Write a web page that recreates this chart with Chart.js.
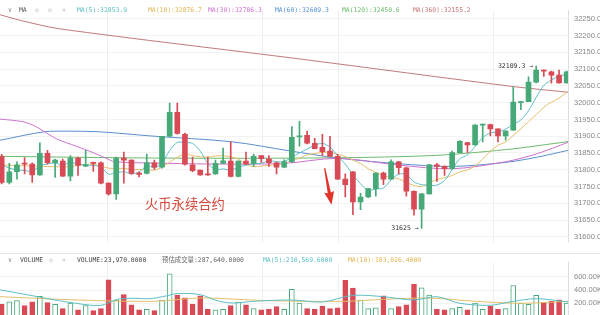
<!DOCTYPE html>
<html>
<head>
<meta charset="utf-8">
<script src="https://cdn.jsdelivr.net/npm/chart.js@4.4.1/dist/chart.umd.min.js"></script>
<style>
  html, body { margin: 0; padding: 0; background: #fff; width: 600px; height: 315px; overflow: hidden; }
  #wrap { position: relative; width: 600px; height: 315px; overflow: hidden; }
  #price { position: absolute; left: 0; top: 0; }
  #vol { position: absolute; left: 0; top: 252px; }
  .t { position: absolute; white-space: nowrap; font-family: "DejaVu Sans Mono", "Noto Sans CJK SC", monospace; font-size: 6.4px; line-height: 8px; }
  .sep { position: absolute; left: 0; top: 253px; width: 600px; height: 1px; background: #e4e4e4; }
  .mark { position: absolute; left: 145px; top: 196px; font-family: "Noto Sans CJK SC", sans-serif; font-size: 13.3px; line-height: 15px; color: #d4483c; white-space: nowrap; }
</style>
</head>
<body>
<div id="wrap">
  <canvas id="price" width="600" height="252"></canvas>
  <canvas id="vol" width="600" height="75"></canvas>
  <div class="sep"></div>

  <div class="t" style="left:8px;top:6px;color:#888">∨</div>
  <div class="t" style="left:19px;top:6px;color:#555">MA</div>
  <div class="t" style="left:35px;top:6px;color:#bbb">◎</div>
  <div class="t" style="left:48px;top:6px;color:#bbb">◎</div>
  <div class="t" style="left:62px;top:6px;color:#bbb">✕</div>
  <div class="t" style="left:77px;top:6px;color:#5dbfc6">MA(5):32853.9</div>
  <div class="t" style="left:148px;top:6px;color:#e2b552">MA(10):32876.7</div>
  <div class="t" style="left:208px;top:6px;color:#cf72cf">MA(30):32786.3</div>
  <div class="t" style="left:275px;top:6px;color:#5592d6">MA(60):32609.3</div>
  <div class="t" style="left:342px;top:6px;color:#6dbb6d">MA(120):32450.6</div>
  <div class="t" style="left:413px;top:6px;color:#c77575">MA(360):32155.2</div>

  <div class="t" style="left:8px;top:256px;color:#888">∨</div>
  <div class="t" style="left:20px;top:256px;color:#444">VOLUME</div>
  <div class="t" style="left:49px;top:256px;color:#bbb">◎</div>
  <div class="t" style="left:62px;top:256px;color:#bbb">✕</div>
  <div class="t" style="left:77px;top:256px;color:#444">VOLUME:23,970.0000</div>
  <div class="t" style="left:162px;top:256px;color:#666">预估成交量:287,640.0000</div>
  <div class="t" style="left:263px;top:256px;color:#5dbfc6">MA(5):210,569.6000</div>
  <div class="t" style="left:348px;top:256px;color:#e2b552">MA(10):183,026.4000</div>

  <div class="mark">火币永续合约</div>
</div>

<script>
// ---- price axis and volume axis ticks ----
const priceTicks = [31600, 31650, 31700, 31750, 31800, 31850, 31900, 31950, 32000, 32050, 32100, 32150, 32200, 32250];
const volTicks = [200000, 400000, 600000];

// ---- candles (one per period, oldest first) ----
const candleOpen = [
  31839.5, 31762, 31794, 31820, 31817, 31785, 31849, 31821, 31826, 31781,
  31835, 31811, 31821, 31821, 31760, 31728, 31835, 31829, 31790, 31789,
  31821, 31808, 31900, 31971, 31906, 31815, 31799, 31788, 31788, 31819,
  31826, 31780, 31826, 31819, 31842, 31833, 31821, 31808, 31824, 31898,
  31903, 31879, 31867, 31856, 31840, 31772, 31794, 31704, 31719, 31744,
  31790, 31772, 31824, 31806, 31736, 31683, 31728, 31815, 31810, 31803,
  31851, 31881, 31874, 31933, 31935, 31922, 31901, 31918, 32000, 32003,
  32061, 32097, 32092, 32082, 32059
];
const candleHigh = [
  31846, 31819, 31824, 31836, 31821, 31880, 31858, 31832, 31832, 31842,
  31838, 31858, 31823, 31824, 31761, 31838, 31853, 31830, 31794, 31847,
  31829, 31900, 31999, 31999, 31909, 31838, 31799, 31838, 31829, 31865,
  31883, 31827, 31853, 31847, 31843, 31842, 31823, 31830, 31929, 31944,
  31915, 31894, 31906, 31900, 31846, 31788, 31795, 31730, 31745, 31791,
  31793, 31830, 31825, 31808, 31737, 31730, 31816, 31819, 31812, 31856,
  31887, 31881, 31935, 31936, 31936, 31922, 31917, 32047, 32004, 32077,
  32109.3, 32098, 32094, 32097, 32094
];
const candleLow = [
  31758, 31758, 31772, 31788, 31762, 31783, 31817, 31777, 31780, 31767,
  31783, 31809, 31795, 31758, 31724, 31712, 31760, 31786, 31779, 31788,
  31801, 31805, 31898, 31906, 31814, 31794, 31783, 31783, 31786, 31818,
  31779, 31779, 31815, 31810, 31822, 31810, 31788, 31806, 31821, 31870,
  31877, 31862, 31842, 31839, 31771, 31719, 31666, 31681, 31717, 31721,
  31756, 31771, 31788, 31721, 31665, 31625, 31727, 31765, 31783, 31802,
  31850, 31851, 31873, 31883, 31901, 31883, 31888, 31917, 31979, 32003,
  32059, 32078, 32058, 32058, 32058
];
const candleClose = [
  31762, 31794, 31815, 31817, 31785, 31849, 31821, 31829, 31781, 31835,
  31813, 31815, 31819, 31760, 31728, 31835, 31829, 31789, 31786, 31821,
  31808, 31900, 31971, 31908, 31817, 31797, 31785, 31785, 31819, 31827,
  31780, 31826, 31817, 31840, 31833, 31821, 31808, 31824, 31897, 31901,
  31879, 31863, 31854, 31840, 31772, 31756, 31704, 31719, 31744, 31790,
  31772, 31824, 31806, 31736, 31683, 31728, 31815, 31810, 31803, 31851,
  31885, 31874, 31933, 31935, 31922, 31901, 31915, 32002, 32003, 32061,
  32097, 32094, 32082, 32059, 32092
];

// ---- volume per period ----
const volume = [
  185000, 221000, 240000, 167000, 221000, 305000, 210000, 185000, 120000, 204000,
  100000, 167000, 90000, 120000, 556000, 248000, 331000, 175000, 100000, 110000,
  90000, 248000, 647000, 324000, 284000, 185000, 313000, 110000, 100000, 110000,
  167000, 215000, 175000, 120000, 100000, 110000, 150000, 110000, 411000, 204000,
  120000, 110000, 156000, 120000, 130000, 549000, 429000, 248000, 120000, 130000,
  313000, 120000, 150000, 175000, 488000, 433000, 324000, 110000, 100000, 120000,
  139000, 100000, 204000, 110000, 156000, 110000, 120000, 469000, 204000, 185000,
  320000, 210000, 229000, 251000, 204000
];

// ---- moving averages of the close, one value per period ----
const ma5 = [
  31815, 31805, 31800, 31798, 31794.6, 31812, 31817.4, 31820.2, 31813, 31823,
  31815.8, 31814.6, 31812.6, 31808.4, 31787, 31791.4, 31794.2, 31788.2, 31793.4, 31812,
  31806.6, 31820.8, 31857.2, 31881.6, 31880.8, 31878.6, 31855.6, 31818.4, 31800.6, 31802.6,
  31799.2, 31807.4, 31813.8, 31818, 31819.2, 31827.4, 31823.8, 31825.2, 31836.6, 31850.2,
  31861.8, 31872.8, 31878.8, 31867.4, 31841.6, 31817, 31785.2, 31758.2, 31739, 31742.6,
  31745.8, 31769.8, 31787.2, 31785.6, 31764.2, 31755.4, 31753.6, 31754.4, 31767.8, 31801.4,
  31832.8, 31844.6, 31869.2, 31895.6, 31909.8, 31913, 31921.2, 31935, 31948.6, 31976.4,
  32015.6, 32051.4, 32067.4, 32078.6, 32084.8
];
const ma10 = [
  31815, 31813, 31812, 31812, 31811, 31810, 31810, 31809, 31809, 31808.8,
  31813.9, 31816, 31816.4, 31810.7, 31805, 31803.6, 31804.4, 31800.4, 31800.9, 31799.5,
  31799, 31807.5, 31822.7, 31837.5, 31846.4, 31842.6, 31838.2, 31837.8, 31841.1, 31841.7,
  31838.9, 31831.5, 31816.1, 31809.3, 31810.9, 31813.3, 31815.6, 31819.5, 31827.3, 31834.7,
  31844.6, 31848.3, 31852, 31852, 31845.9, 31839.4, 31829, 31818.5, 31803.2, 31792.1,
  31781.4, 31777.5, 31772.7, 31762.3, 31753.4, 31750.6, 31761.7, 31770.8, 31776.7, 31782.8,
  31794.1, 31799.1, 31811.8, 31831.7, 31855.6, 31872.9, 31882.9, 31902.1, 31922.1, 31943.1,
  31964.3, 31986.3, 32001.2, 32013.6, 32030.6
];
// slower averages as [period, value] pairs
const ma30 = [[-0.22, 31951], [2.6, 31944], [4.1, 31933], [5.5, 31915], [7.2, 31892], [9.8, 31870],
  [12, 31851], [13.8, 31833], [14.8, 31824], [20, 31820], [29, 31817], [37, 31819], [44, 31834],
  [52, 31814], [59, 31803], [66, 31824], [70, 31847], [74.2, 31882]];
const ma60 = [[-0.22, 31888], [5.5, 31913], [8.5, 31915], [12.9, 31913], [19.4, 31901], [30.3, 31883],
  [37.8, 31856], [44, 31835], [52, 31818], [59, 31810], [66, 31822], [70, 31837], [74.2, 31858]];
const ma120 = [[-0.22, 31840], [20, 31835], [40, 31835], [56, 31842], [66, 31860], [74.2, 31884]];
const ma360 = [[-0.22, 32262], [2.5, 32245], [7.6, 32220], [39.1, 32130], [67, 32048], [74.2, 32031]];

// volume averages as [period, value] pairs
const volMa5 = [[-0.22, 404000], [4.1, 313000], [8.5, 221000], [12.9, 167000], [15.1, 259000], [17.2, 276000],
  [19.4, 270000], [21.6, 313000], [23, 349000], [26, 331000], [28.2, 240000], [30.3, 204000], [33, 230000],
  [38, 250000], [42, 220000], [46, 320000], [50, 300000], [54, 250000], [57, 300000], [60, 200000],
  [64, 170000], [67, 230000], [70, 270000], [74.2, 220000]];
const volMa10 = [[-0.22, 300000], [10, 250000], [20, 230000], [26, 280000], [35, 240000], [45, 230000],
  [50, 260000], [56, 280000], [62, 230000], [68, 200000], [74.2, 230000]];

// periods where the time grid draws a vertical line
const timeGridAt = [13.8, 34.1, 44.05, 64.35];

// annotation: falling arrow drawn between two [period, price] points
const fallArrow = { from: [42.3, 31805], to: [43.2, 31696] };

// ---- styling ----
const UP = '#47a878';
const DOWN = '#d84a56';
const X_MIN = -0.22, X_MAX = 74.17;
const idx = candleClose.map((_, i) => i);
const isUp = i => candleClose[i] >= candleOpen[i];
const pairs = arr => arr.map(p => ({ x: p[0], y: p[1] }));

function lineSet(data, color, order) {
  return { type: 'line', data, borderColor: color, borderWidth: 1, pointRadius: 0, tension: 0.3, order, fill: false };
}

function timeGrid() {
  return {
    type: 'linear', min: X_MIN, max: X_MAX, offset: false,
    ticks: { display: false },
    border: { display: false },
    grid: { color: '#eeeeee', drawTicks: false, lineWidth: 1, offset: false },
    afterBuildTicks: s => { s.ticks = timeGridAt.map(v => ({ value: v })); }
  };
}

const axisFont = { family: 'Liberation Sans', size: 7.5 };

// value markers on the highest high and lowest low, plus the arrow
const markers = {
  id: 'markers',
  afterDatasetsDraw(chart) {
    const { ctx, scales: { x, y } } = chart;
    let hi = 0, lo = 0;
    idx.forEach(i => {
      if (candleHigh[i] > candleHigh[hi]) hi = i;
      if (candleLow[i] < candleLow[lo]) lo = i;
    });
    ctx.save();
    ctx.font = '6.5px "DejaVu Sans Mono", monospace';
    ctx.fillStyle = '#333';
    ctx.textAlign = 'right';
    ctx.textBaseline = 'middle';
    ctx.fillText(String(candleHigh[hi]) + ' →', x.getPixelForValue(hi) - 3, y.getPixelForValue(candleHigh[hi]));
    ctx.fillText(String(candleLow[lo]) + ' →', x.getPixelForValue(lo) - 3, y.getPixelForValue(candleLow[lo]));

    // arrow
    const x1 = x.getPixelForValue(fallArrow.from[0]), y1 = y.getPixelForValue(fallArrow.from[1]);
    const x2 = x.getPixelForValue(fallArrow.to[0]), y2 = y.getPixelForValue(fallArrow.to[1]);
    const ang = Math.atan2(y2 - y1, x2 - x1);
    const len = Math.hypot(x2 - x1, y2 - y1);
    ctx.translate(x1, y1);
    ctx.rotate(ang);
    ctx.fillStyle = '#e2332b';
    ctx.beginPath();
    ctx.moveTo(0, -0.6);
    ctx.lineTo(len - 12, -1.6);
    ctx.lineTo(len - 13, -5);
    ctx.lineTo(len, 0);
    ctx.lineTo(len - 13, 5);
    ctx.lineTo(len - 12, 1.6);
    ctx.lineTo(0, 0.6);
    ctx.closePath();
    ctx.fill();
    ctx.restore();
  }
};

new Chart(document.getElementById('price'), {
  type: 'bar',
  data: {
    datasets: [
      {
        label: 'wick', data: idx.map(i => ({ x: i, y: [candleLow[i], candleHigh[i]] })),
        backgroundColor: idx.map(i => isUp(i) ? UP : DOWN), barThickness: 1, grouped: false, order: 1
      },
      {
        label: 'body', data: idx.map(i => ({ x: i, y: [candleOpen[i], candleClose[i]] })),
        backgroundColor: idx.map(i => isUp(i) ? UP : DOWN), barThickness: 5, minBarLength: 1, grouped: false, order: 0
      },
      lineSet(idx.map(i => ({ x: i, y: ma5[i] })), '#5dbfc6', 2),
      lineSet(idx.map(i => ({ x: i, y: ma10[i] })), '#e5bf6a', 2),
      lineSet(pairs(ma30), '#cf72cf', 3),
      lineSet(pairs(ma60), '#5b8fcc', 3),
      lineSet(pairs(ma120), '#6dbb6d', 3),
      lineSet(pairs(ma360), '#c27a7a', 3)
    ]
  },
  options: {
    responsive: false, animation: false, events: [],
    layout: { padding: 0 },
    plugins: { legend: { display: false }, tooltip: { enabled: false } },
    scales: {
      x: timeGrid(),
      y: {
        position: 'right', min: 31586.3, max: 32274.6,
        afterBuildTicks: s => { s.ticks = priceTicks.map(v => ({ value: v })); },
        afterFit: s => { s.width = 32; },
        grid: { color: '#f3f3f3', drawTicks: false },
        border: { color: '#dddddd' },
        ticks: { padding: 6, color: '#888', font: axisFont, callback: v => v.toFixed(2) }
      }
    }
  },
  plugins: [markers]
});

new Chart(document.getElementById('vol'), {
  type: 'bar',
  data: {
    datasets: [
      {
        label: 'volume', data: idx.map(i => ({ x: i, y: volume[i] })),
        backgroundColor: idx.map(i => isUp(i) ? '#ffffff' : DOWN),
        borderColor: idx.map(i => isUp(i) ? UP : DOWN),
        borderWidth: 1, barThickness: 5, order: 1
      },
      lineSet(pairs(volMa5), '#5dbfc6', 0),
      lineSet(pairs(volMa10), '#e5bf6a', 0)
    ]
  },
  options: {
    responsive: false, animation: false, events: [],
    layout: { padding: 0 },
    plugins: { legend: { display: false }, tooltip: { enabled: false } },
    scales: {
      x: timeGrid(),
      y: {
        position: 'right', min: 0, max: 818000,
        afterBuildTicks: s => { s.ticks = volTicks.map(v => ({ value: v })); },
        afterFit: s => { s.width = 32; },
        grid: { color: '#f3f3f3', drawTicks: false },
        border: { color: '#dddddd' },
        ticks: { padding: 6, color: '#888', font: axisFont, callback: v => (v / 1000).toFixed(2) + 'K' }
      }
    }
  }
});
</script>
</body>
</html>
